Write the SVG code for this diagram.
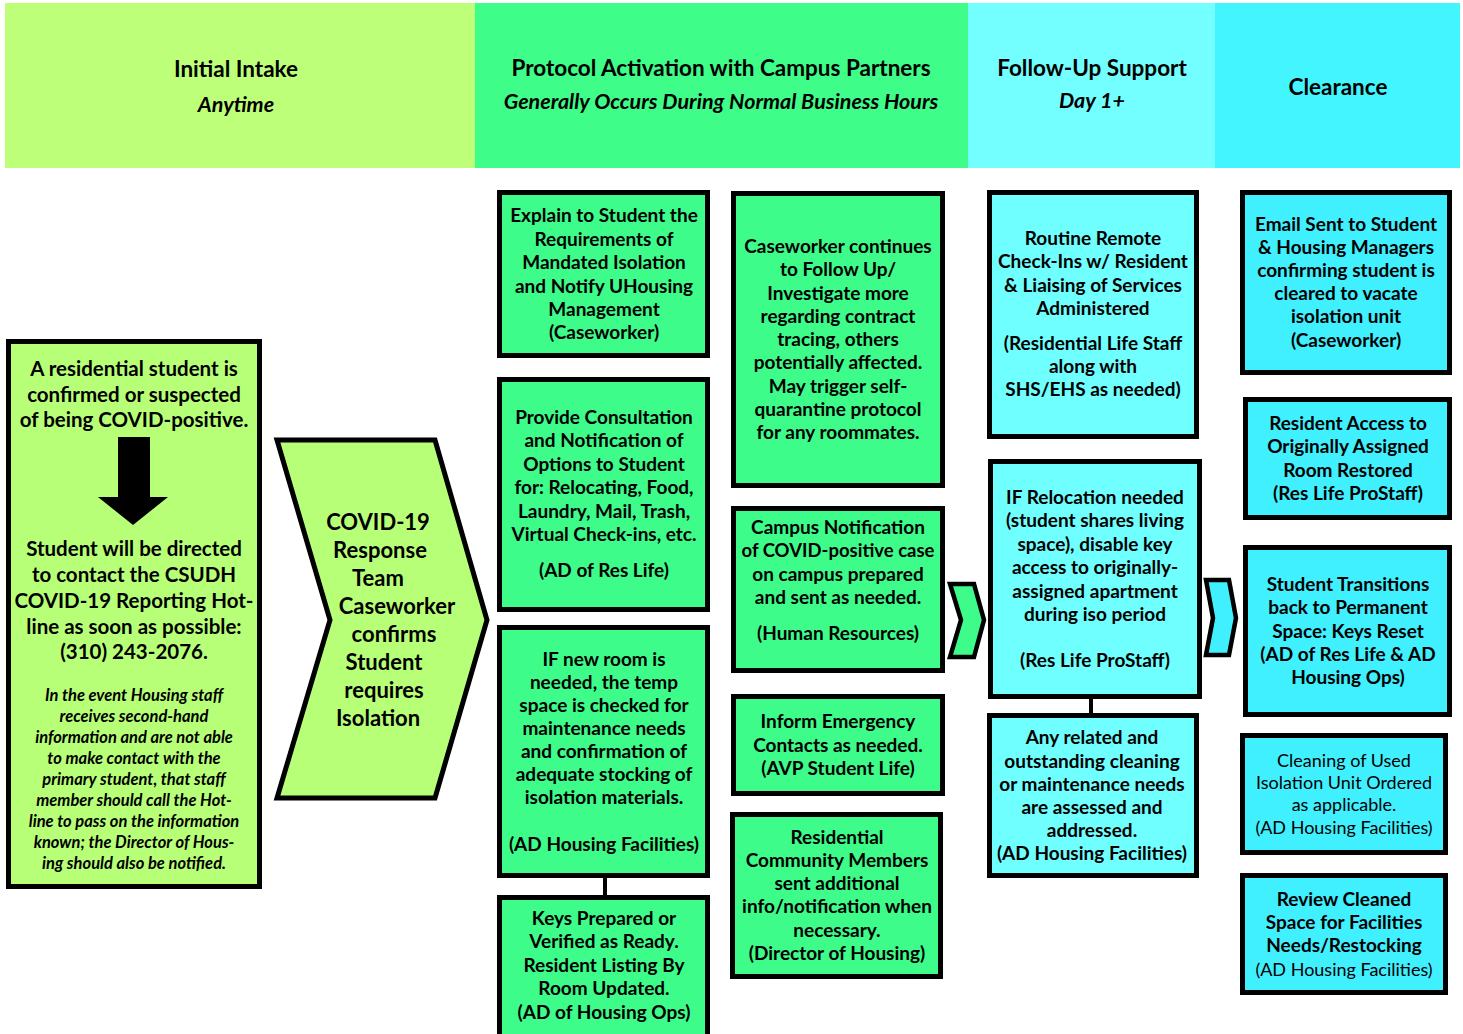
<svg xmlns="http://www.w3.org/2000/svg" width="1463" height="1034" viewBox="0 0 1463 1034">
<style>
text{font-family:Lato,"Liberation Sans",sans-serif;fill:#000;text-anchor:middle}
.h{font-size:22.5px;font-weight:bold}
.hi{font-size:21.5px;font-style:italic;font-weight:bold}
.t{font-size:19px;font-weight:bold}
.tn{font-size:18px}
.l{font-size:20.5px;font-weight:bold}
.li{font-size:16.5px;font-style:italic;font-weight:bold}
.c{font-size:22px;font-weight:bold}
.box{stroke:#000;stroke-width:5}
.g{fill:#3DFC8A}
.lg{fill:#B8FF78}
.cy{fill:#70FFFF}
.cy2{fill:#40F0FF}
.conn{stroke:#000;stroke-width:4;fill:none}
</style>
<rect width="1463" height="1034" fill="#fff"/>
<g id="headers">
<rect x="5" y="3" width="470" height="165" fill="#BDFF79"/>
<rect x="475" y="3" width="493" height="165" fill="#3EFD89"/>
<rect x="968" y="3" width="247" height="165" fill="#73FFFF"/>
<rect x="1215" y="3" width="245" height="165" fill="#42F5FF"/>
<text class="h" x="236" y="77">Initial Intake</text>
<text class="hi" x="236" y="112">Anytime</text>
<text class="h" x="721" y="76">Protocol Activation with Campus Partners</text>
<text class="hi" x="721" y="109">Generally Occurs During Normal Business Hours</text>
<text class="h" x="1092" y="76">Follow-Up Support</text>
<text class="hi" x="1092" y="108">Day 1+</text>
<text class="h" x="1338" y="95">Clearance</text>
</g>
<g id="intake">
<rect class="box lg" x="8.5" y="341.5" width="251" height="545"/>
<text class="l" x="134" y="376">A residential student is</text>
<text class="l" x="134" y="402">confirmed or suspected</text>
<text class="l" x="134" y="427">of being COVID-positive.</text>
<polygon points="118,437 150,437 150,497 168,497 133,525 98,497 118,497" fill="#000"/>
<text class="l" x="134" y="556">Student will be directed</text>
<text class="l" x="134" y="582">to contact the CSUDH</text>
<text class="l" x="134" y="608">COVID-19 Reporting Hot-</text>
<text class="l" x="134" y="634">line as soon as possible:</text>
<text class="l" x="134" y="659">(310) 243-2076.</text>
<text class="li" x="134" y="701">In the event Housing staff</text>
<text class="li" x="134" y="722">receives  second-hand</text>
<text class="li" x="134" y="743">information and are not able</text>
<text class="li" x="134" y="764">to make contact with the</text>
<text class="li" x="134" y="785">primary student, that staff</text>
<text class="li" x="134" y="806">member should call the Hot-</text>
<text class="li" x="134" y="827">line to pass on the information</text>
<text class="li" x="134" y="848">known; the Director of Hous-</text>
<text class="li" x="134" y="869">ing should also be notified.</text>
</g>
<g id="response-team">
<polygon class="box lg" points="277,440 435,440 487,620 435,798 277,798 330,620"/>
<text class="c" x="378" y="530">COVID-19</text>
<text class="c" x="380" y="558">Response</text>
<text class="c" x="378" y="586">Team</text>
<text class="c" x="397" y="614">Caseworker</text>
<text class="c" x="394" y="642">confirms</text>
<text class="c" x="384" y="670">Student</text>
<text class="c" x="384" y="698">requires</text>
<text class="c" x="378" y="726">Isolation</text>
</g>
<g id="connectors">
<line class="conn" x1="605" y1="878" x2="605" y2="896"/>
<line class="conn" x1="1091" y1="698" x2="1091" y2="715"/>
<polygon class="box g" style="stroke-width:4.5" points="950,584 974,584 984,620 974,657 950,657 961,620"/>
<polygon class="box cy2" style="stroke-width:4.5" points="1206,580 1229,580 1236,618 1229,655 1206,655 1213,618"/>
</g>
<g id="explain">
<rect class="box g" x="499.5" y="192.5" width="208" height="163"/>
<text class="t" x="604" y="222">Explain to Student the</text>
<text class="t" x="604" y="246">Requirements of</text>
<text class="t" x="604" y="269">Mandated Isolation</text>
<text class="t" x="604" y="293">and Notify UHousing</text>
<text class="t" x="604" y="316">Management</text>
<text class="t" x="604" y="339">(Caseworker)</text>
</g>
<g id="consultation">
<rect class="box g" x="499.5" y="379.5" width="208" height="230"/>
<text class="t" x="604" y="424">Provide Consultation</text>
<text class="t" x="604" y="447">and Notification of</text>
<text class="t" x="604" y="471">Options to Student</text>
<text class="t" x="604" y="494">for: Relocating, Food,</text>
<text class="t" x="604" y="518">Laundry, Mail, Trash,</text>
<text class="t" x="604" y="541">Virtual Check-ins, etc.</text>
<text class="t" x="604" y="577">(AD of Res Life)</text>
</g>
<g id="new-room">
<rect class="box g" x="499.5" y="627.5" width="208" height="248"/>
<text class="t" x="604" y="666">IF new room is</text>
<text class="t" x="604" y="689">needed, the temp</text>
<text class="t" x="604" y="712">space is checked for</text>
<text class="t" x="604" y="735">maintenance needs</text>
<text class="t" x="604" y="758">and confirmation of</text>
<text class="t" x="604" y="781">adequate stocking of</text>
<text class="t" x="604" y="804">isolation materials.</text>
<text class="t" x="604" y="851">(AD Housing Facilities)</text>
</g>
<g id="keys">
<rect class="box g" x="499.5" y="897.5" width="208" height="150"/>
<text class="t" x="604" y="925">Keys Prepared or</text>
<text class="t" x="604" y="948">Verified as Ready.</text>
<text class="t" x="604" y="972">Resident Listing By</text>
<text class="t" x="604" y="995">Room Updated.</text>
<text class="t" x="604" y="1019">(AD of Housing Ops)</text>
</g>
<g id="caseworker-continues">
<rect class="box g" x="733.5" y="193.5" width="209" height="292"/>
<text class="t" x="838" y="253">Caseworker continues</text>
<text class="t" x="838" y="276">to Follow Up/</text>
<text class="t" x="838" y="300">Investigate more</text>
<text class="t" x="838" y="323">regarding contract</text>
<text class="t" x="838" y="346">tracing, others</text>
<text class="t" x="838" y="369">potentially affected.</text>
<text class="t" x="838" y="393">May trigger self-</text>
<text class="t" x="838" y="416">quarantine protocol</text>
<text class="t" x="838" y="439">for any roommates.</text>
</g>
<g id="campus-notification">
<rect class="box g" x="733.5" y="508.5" width="209" height="162"/>
<text class="t" x="838" y="534">Campus Notification</text>
<text class="t" x="838" y="557" style="font-size:18.5px">of COVID-positive case</text>
<text class="t" x="838" y="581">on campus prepared</text>
<text class="t" x="838" y="604">and sent as needed.</text>
<text class="t" x="838" y="640">(Human Resources)</text>
</g>
<g id="emergency">
<rect class="box g" x="733.5" y="696.5" width="209" height="97"/>
<text class="t" x="838" y="728">Inform Emergency</text>
<text class="t" x="838" y="752">Contacts as needed.</text>
<text class="t" x="838" y="775">(AVP Student Life)</text>
</g>
<g id="community">
<rect class="box g" x="732.5" y="814.5" width="208" height="162"/>
<text class="t" x="837" y="844">Residential</text>
<text class="t" x="837" y="867">Community Members</text>
<text class="t" x="837" y="890">sent additional</text>
<text class="t" x="837" y="913">info/notification when</text>
<text class="t" x="837" y="937">necessary.</text>
<text class="t" x="837" y="960">(Director of Housing)</text>
</g>
<g id="check-ins">
<rect class="box cy" x="989.5" y="192.5" width="207" height="244"/>
<text class="t" x="1093" y="245">Routine Remote</text>
<text class="t" x="1093" y="268">Check-Ins w/ Resident</text>
<text class="t" x="1093" y="292">&amp; Liaising of Services</text>
<text class="t" x="1093" y="315">Administered</text>
<text class="t" x="1093" y="350">(Residential Life Staff</text>
<text class="t" x="1093" y="373">along with</text>
<text class="t" x="1093" y="396">SHS/EHS as needed)</text>
</g>
<g id="relocation">
<rect class="box cy" x="990.5" y="461.5" width="209" height="235"/>
<text class="t" x="1095" y="504">IF Relocation needed</text>
<text class="t" x="1095" y="527">(student shares living</text>
<text class="t" x="1095" y="551">space), disable key</text>
<text class="t" x="1095" y="574">access to originally-</text>
<text class="t" x="1095" y="598">assigned apartment</text>
<text class="t" x="1095" y="621">during iso period</text>
<text class="t" x="1095" y="667">(Res Life ProStaff)</text>
</g>
<g id="cleaning-needs">
<rect class="box cy" x="989.5" y="715.5" width="207" height="160"/>
<text class="t" x="1092" y="744">Any related and</text>
<text class="t" x="1092" y="768">outstanding cleaning</text>
<text class="t" x="1092" y="791">or maintenance needs</text>
<text class="t" x="1092" y="814">are assessed and</text>
<text class="t" x="1092" y="837">addressed.</text>
<text class="t" x="1092" y="860">(AD Housing Facilities)</text>
</g>
<g id="email">
<rect class="box cy2" x="1242.5" y="192.5" width="207" height="180"/>
<text class="t" x="1346" y="231">Email Sent to Student</text>
<text class="t" x="1346" y="254">&amp; Housing Managers</text>
<text class="t" x="1346" y="277">confirming student is</text>
<text class="t" x="1346" y="300">cleared to vacate</text>
<text class="t" x="1346" y="323">isolation unit</text>
<text class="t" x="1346" y="347">(Caseworker)</text>
</g>
<g id="access">
<rect class="box cy2" x="1245.5" y="399.5" width="204" height="118"/>
<text class="t" x="1348" y="430">Resident Access to</text>
<text class="t" x="1348" y="453">Originally Assigned</text>
<text class="t" x="1348" y="477">Room Restored</text>
<text class="t" x="1348" y="500">(Res Life ProStaff)</text>
</g>
<g id="transition">
<rect class="box cy2" x="1245.5" y="547.5" width="204" height="167"/>
<text class="t" x="1348" y="591">Student Transitions</text>
<text class="t" x="1348" y="614">back to Permanent</text>
<text class="t" x="1348" y="638">Space: Keys Reset</text>
<text class="t" x="1348" y="661">(AD of Res Life &amp; AD</text>
<text class="t" x="1348" y="684">Housing Ops)</text>
</g>
<g id="cleaning-unit">
<rect class="box cy2" x="1242.5" y="735.5" width="203" height="117"/>
<text class="tn" x="1344" y="767">Cleaning of Used</text>
<text class="tn" x="1344" y="789">Isolation Unit Ordered</text>
<text class="tn" x="1344" y="811">as applicable.</text>
<text class="tn" x="1344" y="834">(AD Housing Facilities)</text>
</g>
<g id="review">
<rect class="box cy2" x="1242.5" y="875.5" width="203" height="117"/>
<text class="t" x="1344" y="906">Review Cleaned</text>
<text class="t" x="1344" y="929">Space for Facilities</text>
<text class="t" x="1344" y="952">Needs/Restocking</text>
<text class="tn" x="1344" y="976">(AD Housing Facilities)</text>
</g>
</svg>
